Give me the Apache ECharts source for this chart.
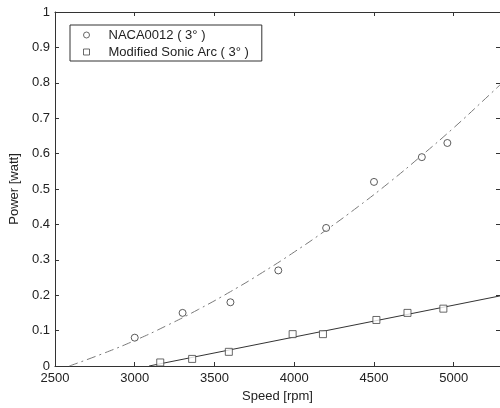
<!DOCTYPE html>
<html>
<head>
<meta charset="utf-8">
<script src="https://cdn.jsdelivr.net/npm/echarts@6/dist/echarts.min.js"></script>
<style>html,body{margin:0;padding:0;background:#fff;}#c{width:500px;height:408px;}</style>
</head>
<body>
<div id="c"></div>
<script>
const nameA = 'NACA0012 ( 3° )';
const nameB = 'Modified Sonic Arc ( 3° )';
const speedA = [3000, 3300, 3600, 3900, 4200, 4500, 4800, 4960];
const powerA = [0.08, 0.15, 0.18, 0.27, 0.39, 0.52, 0.59, 0.63];
const speedB = [3160, 3360, 3590, 3990, 4180, 4515, 4710, 4935];
const powerB = [0.01, 0.02, 0.04, 0.09, 0.09, 0.13, 0.15, 0.162];
const fitSpeedA = [2590, 2800, 3000, 3200, 3400, 3600, 3800, 4000, 4200, 4400, 4600, 4800, 5000, 5200, 5290];
const fitPowerA = [0, 0.035, 0.072, 0.114, 0.16, 0.21, 0.264, 0.322, 0.384, 0.45, 0.52, 0.595, 0.673, 0.756, 0.794];
const fitSpeedB = [3090, 5290];
const fitPowerB = [0, 0.198];
const xTicks = [2500, 3000, 3500, 4000, 4500, 5000];

const zip = (a, b) => a.map((v, i) => [v, b[i]]);
const font = 'Arial, "Liberation Sans", sans-serif';
const axisCol = '#333';

function xAx(pos, show) {
  return {
    type: 'value', position: pos, min: 2500, max: 5290, interval: 500,
    name: show ? 'Speed [rpm]' : '', nameLocation: 'middle', nameGap: 23,
    nameTextStyle: {fontFamily: font, fontSize: 13, color: '#222'},
    axisLine: {show: true, onZero: false, lineStyle: {color: axisCol, width: 1}},
    axisTick: {show: true, inside: true, length: 4, lineStyle: {color: axisCol}},
    axisLabel: {show: show, margin: 6, fontFamily: font, fontSize: 13, color: '#222', showMaxLabel: false,
      formatter: v => xTicks.includes(v) ? String(v) : ''},
    splitLine: {show: false}
  };
}
function yAx(pos, show) {
  return {
    type: 'value', position: pos, min: 0, max: 1, interval: 0.1,
    name: show ? 'Power [watt]' : '', nameLocation: 'middle', nameGap: 31,
    nameTextStyle: {fontFamily: font, fontSize: 13, color: '#222'},
    axisLine: {show: true, onZero: false, lineStyle: {color: axisCol, width: 1}},
    axisTick: {show: true, inside: true, length: 4, lineStyle: {color: axisCol}},
    axisLabel: {show: show, margin: 5, fontFamily: font, fontSize: 13, color: '#222',
      formatter: v => String(Math.round(v * 10) / 10)},
    splitLine: {show: false}
  };
}

const chart = echarts.init(document.getElementById('c'), null, {renderer: 'canvas'});
chart.setOption({
  animation: false,
  backgroundColor: '#fff',
  grid: {left: 52, right: 0, top: 12, bottom: 42},
  xAxis: [xAx('bottom', true), xAx('top', false)],
  yAxis: [yAx('left', true), yAx('right', false)],
  legend: {
    left: 70, top: 25, orient: 'vertical',
    padding: [3, 13, 2, 13], itemGap: 3,
    itemWidth: 6, itemHeight: 6,
    backgroundColor: '#fff', borderColor: '#333', borderWidth: 1,
    itemStyle: {color: '#fff', borderColor: '#444', borderWidth: 1},
    textStyle: {fontFamily: font, fontSize: 13, color: '#222', lineHeight: 14, padding: [0, 0, 0, 14]},
    data: [{name: nameA, icon: 'circle'}, {name: nameB, icon: 'rect'}]
  },
  series: [
    {type: 'line', name: 'fitA', data: zip(fitSpeedA, fitPowerA), smooth: true, showSymbol: false, silent: true,
      lineStyle: {color: '#7a7a7a', width: 1, type: [9, 4, 2, 4]}, z: 1},
    {type: 'line', name: 'fitB', data: zip(fitSpeedB, fitPowerB), showSymbol: false, silent: true,
      lineStyle: {color: '#333', width: 1}, z: 1},
    {type: 'scatter', name: nameA, data: zip(speedA, powerA), symbol: 'circle', symbolSize: 7,
      itemStyle: {color: '#fff', borderColor: '#333', borderWidth: 1}, z: 3},
    {type: 'scatter', name: nameB, data: zip(speedB, powerB), symbol: 'rect', symbolSize: 7,
      itemStyle: {color: '#fff', borderColor: '#444', borderWidth: 1}, z: 3}
  ]
});
</script>
</body>
</html>
